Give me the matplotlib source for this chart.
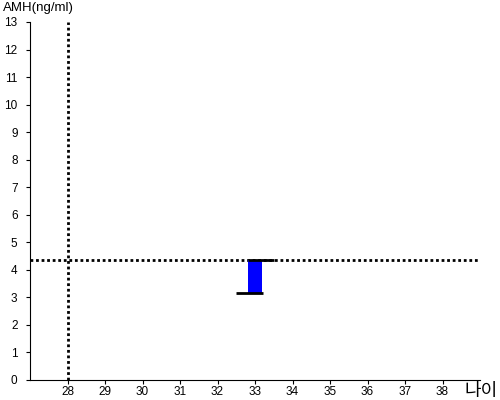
import matplotlib.pyplot as plt

plt.rcParams['font.family'] = ['Liberation Sans', 'Noto Sans CJK KR', 'DejaVu Sans']

ages = [33]
amh_low = [3.15]
amh_high = [4.35]
ref_age = 28
ref_amh = 4.35
x_ticks = list(range(28, 39))
y_ticks = list(range(0, 14))

fig = plt.figure(figsize=(5, 4), dpi=100)
ax = fig.add_axes([0.06, 0.05, 0.90, 0.895])

# dotted reference lines
ax.axvline(ref_age, color='black', linestyle=(0, (1, 1)), linewidth=2, zorder=1)
ax.axhline(ref_amh, color='black', linestyle=(0, (1, 1)), linewidth=2, zorder=1)

for a, lo, hi in zip(ages, amh_low, amh_high):
    ax.bar(a, hi - lo, bottom=lo, width=0.4, color='#0000ff', zorder=2)
    ax.hlines(hi, a - 0.2, a + 0.5, color='black', linewidth=2, zorder=3)
    ax.hlines(lo, a - 0.5, a + 0.2, color='black', linewidth=2, zorder=3)

ax.set_xlim(27, 39)
ax.set_ylim(0, 13)
ax.set_xticks(x_ticks)
ax.set_yticks(y_ticks)
ax.tick_params(labelsize=8.5, length=3, color='black')
ax.tick_params(axis='x', pad=1)
ax.tick_params(axis='y', pad=6)
for s in ['top', 'right']:
    ax.spines[s].set_visible(False)

fig.text(0.005, 0.995, 'AMH(ng/ml)', ha='left', va='top', fontsize=9.5)
fig.text(0.995, 0.0, '나이', ha='right', va='bottom', fontsize=13)

fig.savefig('out.png')
